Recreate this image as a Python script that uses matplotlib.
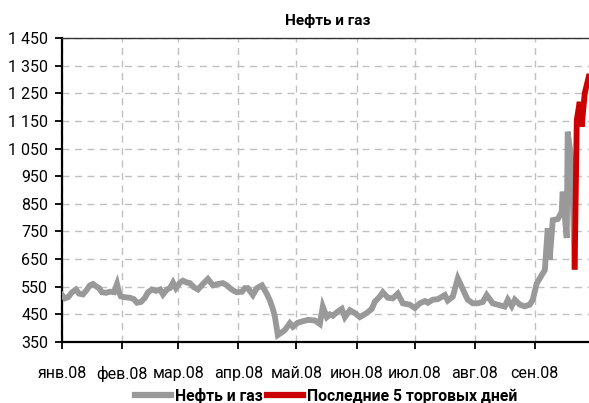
import matplotlib
matplotlib.use('Agg')
import matplotlib.pyplot as plt
from matplotlib.ticker import FuncFormatter
from matplotlib.lines import Line2D

plt.rcParams['font.family'] = ['Roboto', 'DejaVu Sans']

# дни с 1 января 2008 и значения индекса
days = [0, 1.5, 3.1, 5.2, 7.2, 8.8, 10.8, 12.4, 14.4, 16.0, 17.5, 19.1, 20.6, 22.7, 24.8,
        26.8, 28.4, 29.4, 30.4, 32.5, 35.1, 37.1, 38.7, 40.8, 42.8, 44.4, 46.4, 48.5, 50.6,
        52.1, 54.2, 55.7, 57.3, 58.8, 60.9, 62.4, 64.5, 66.0, 68.1, 70.2, 72.7, 75.3, 77.9,
        80.5, 83.1, 85.1, 86.7, 88.7, 90.3, 92.9, 94.4, 95.9, 98.5, 100.6, 103.2, 105.8,
        107.3, 108.8, 109.9, 111.4, 113.5, 115.0, 117.6, 119.2, 121.7, 124.3, 126.9, 130.5,
        133.1, 134.6, 136.7, 138.3, 139.8, 141.9, 144.4, 146.0, 148.6, 151.1, 153.7, 157.3,
        159.9, 161.5, 164.0, 165.6, 168.2, 170.7, 173.3, 175.9, 179.5, 182.1, 184.7, 187.3,
        188.8, 191.4, 194.0, 197.6, 199.1, 201.7, 204.3, 206.3, 207.9, 209.4, 212.0, 214.6,
        217.2, 219.2, 220.8, 222.3, 224.9, 228.5, 230.1, 232.1, 233.7, 236.3, 238.8, 241.4,
        243.0, 245.0, 246.6, 248.1, 249.2, 250.7, 251.7, 253.3, 255.9, 257.9, 258.4, 260.5,
        261.0, 263.1, 264.6]
values = [520, 508, 512, 530, 540, 525, 522, 535, 555, 560, 552, 545, 530, 528, 532,
          530, 560, 530, 515, 512, 510, 505, 492, 495, 510, 530, 540, 535, 540,
          522, 540, 545, 565, 545, 565, 572, 565, 563, 548, 540, 560, 578, 555,
          560, 563, 555, 545, 535, 530, 532, 545, 545, 520, 545, 555, 523,
          500, 470, 441, 375, 385, 393, 418, 405, 420, 425, 430, 428,
          415, 478, 440, 450, 445, 458, 470, 440, 465, 455, 440, 455,
          470, 496, 514, 530, 510, 508, 525, 490, 485, 473, 490, 498,
          492, 503, 505, 520, 500, 514, 580, 550, 525, 503, 490, 490,
          495, 520, 505, 490, 485, 478, 503, 480, 503, 485, 479, 485,
          503, 562, 580, 598, 610, 762, 647, 791, 795, 821, 894, 726,
          1111, 1000, 622]

last_days = [264.6, 265.7, 267.2, 268.2, 269.8, 271.9]
last_values = [622, 1153, 1219, 1129, 1250, 1310]

month_days = [0, 31, 60, 91, 121, 152, 182, 213, 244]
month_labels = ['янв.08', 'фев.08', 'мар.08', 'апр.08', 'май.08', 'июн.08',
                'июл.08', 'авг.08', 'сен.08']

gray = '#999999'
red = '#cc0000'

fig = plt.figure(figsize=(5.89, 4.03), dpi=100)
ax = fig.add_axes([62 / 589, 1 - 342 / 403, 1 - 62 / 589, (342 - 38) / 403])

ax.plot(days, values, color=gray, lw=4.2, solid_joinstyle='miter', zorder=3)
ax.plot(last_days, last_values, color=red, lw=4.2, solid_joinstyle='miter', zorder=4)

ax.set_xlim(0, 272)
ax.set_ylim(350, 1450)
ax.set_yticks(range(350, 1451, 100))
ax.yaxis.set_major_formatter(FuncFormatter(lambda v, p: f'{int(v):,}'.replace(',', ' ')))
ax.set_xticks(month_days)
ax.set_xticklabels(month_labels)

ax.grid(True, color='#c0c0c0', ls=(0, (5, 4)), lw=1.0)
ax.set_axisbelow(True)

ax.spines['right'].set_visible(False)
ax.spines['left'].set_linewidth(1.6)
ax.spines['bottom'].set_linewidth(1.6)
ax.spines['top'].set_linewidth(1.0)
ax.spines['top'].set_color('#333333')
ax.tick_params(axis='both', direction='out', length=5, width=1.3, labelsize=11.5,
               colors='black')
ax.tick_params(axis='x', pad=12)
ax.tick_params(axis='y', pad=5)

ax.set_title('Нефть и газ', fontsize=11, fontweight='bold', pad=9, x=(328 - 62) / 527)

handles = [Line2D([], [], color=gray, lw=4.5), Line2D([], [], color=red, lw=4.5)]
fig.legend(handles, ['Нефть и газ', 'Последние 5 торговых дней'],
           loc='center', bbox_to_anchor=(326 / 589, 1 - 396 / 403), ncol=2, frameon=False,
           prop={'weight': 'bold', 'size': 11.3}, handlelength=2.3, handletextpad=0.25,
           columnspacing=0.25)

fig.savefig('out.png', dpi=100)
